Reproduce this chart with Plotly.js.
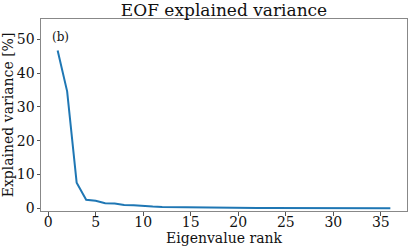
<!DOCTYPE html>
<html><head><meta charset="utf-8">
<script src="https://cdn.plot.ly/plotly-3.0.1.min.js"></script>
<style>body{margin:0;padding:0;background:#fff}#c{width:411px;height:247px}</style>
</head><body><div id="c"></div>
<script>
const rank = [];
for (let i = 1; i <= 36; i++) rank.push(i);
const variance = [46.7, 34.6, 7.6, 2.5, 2.2, 1.5, 1.4, 1.0, 0.9, 0.6,
  0.5, 0.4, 0.35, 0.3, 0.27, 0.22, 0.18, 0.15, 0.13, 0.12,
  0.1, 0.09, 0.08, 0.07, 0.06, 0.06, 0.05, 0.05, 0.04, 0.04,
  0.03, 0.03, 0.03, 0.02, 0.02, 0.02];
const xTicks = [0, 5, 10, 15, 20, 25, 30, 35];
const yTicks = [0, 10, 20, 30, 40, 50];
const font = "DejaVu Serif";
Plotly.newPlot('c', [{
  x: rank, y: variance, type: 'scatter', mode: 'lines',
  line: {color: '#1f77b4', width: 2}
}], {
  width: 411, height: 247,
  margin: {l: 41, r: 4, t: 19, b: 36},
  paper_bgcolor: '#fff', plot_bgcolor: '#fff',
  font: {family: font, color: '#111', size: 14},
  title: {text: 'EOF explained variance', font: {family: font, size: 17, color: '#111'},
    xref: 'paper', x: 0.5, xanchor: 'center', yref: 'container', y: 0.985, yanchor: 'top', pad: {t: 0, b: 0}},
  showlegend: false,
  xaxis: {range: [-0.75, 37.75], tickvals: xTicks, ticktext: xTicks.map(String),
    ticks: 'outside', ticklen: 3.5, tickcolor: '#555', showgrid: false, zeroline: false,
    showline: true, mirror: true, linecolor: '#888', linewidth: 1,
    ticklabelstandoff: -5,
    tickfont: {family: font, size: 14}, title: {text: 'Eigenvalue rank', font: {family: font, size: 14}, standoff: 0}},
  yaxis: {range: [-0.8, 56], tickvals: yTicks, ticktext: yTicks.map(String),
    ticks: 'outside', ticklen: 3.5, tickcolor: '#555', showgrid: false, zeroline: false,
    showline: true, mirror: true, linecolor: '#888', linewidth: 1,
    ticklabelstandoff: -1,
    tickfont: {family: font, size: 14}, title: {text: 'Explained variance [%]', font: {family: font, size: 14}, standoff: 2}},
  annotations: [{text: '(b)', xref: 'paper', yref: 'paper', x: 0.025, y: 0.955, xanchor: 'left', yanchor: 'top', showarrow: false, font: {family: font, size: 12, color: '#111'}}]
}, {staticPlot: true});
</script></body></html>
